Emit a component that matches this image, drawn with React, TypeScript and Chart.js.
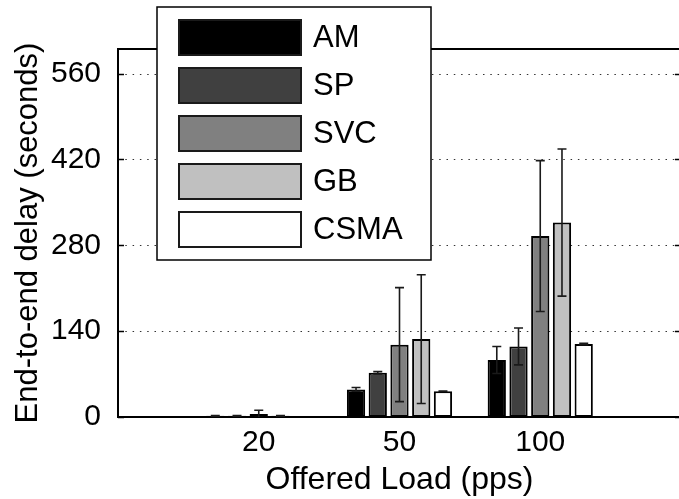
import React, { useEffect, useRef } from 'react';
import { Chart, registerables } from 'chart.js';

Chart.register(...registerables);

// ---- data ----
const categories = ['20', '50', '100'];
const seriesNames = ['AM', 'SP', 'SVC', 'GB', 'CSMA'];
const amValues = [2, 45, 93];
const amErrors = [0.5, 3, 22];
const spValues = [2, 72, 115];
const spErrors = [0.5, 2, 30];
const svcValues = [5, 118, 295];
const svcErrors = [6, 93, 123];
const gbValues = [2, 127, 317];
const gbErrors = [0.5, 105, 120];
const csmaValues = [1.5, 42, 119];
const csmaErrors = [0, 0.5, 1];
const yTicks = [0, 140, 280, 420, 560];
const yMax = 600;

const seriesValues = [amValues, spValues, svcValues, gbValues, csmaValues];
const seriesErrors = [amErrors, spErrors, svcErrors, gbErrors, csmaErrors];
const seriesColors = ['#000000', '#404040', '#808080', '#c0c0c0', '#ffffff'];

const FONT = "'Liberation Sans', Arial, Helvetica, sans-serif";

const framePlugin = {
  id: 'matlabFrame',
  beforeDatasetsDraw(chart: any) {
    const { ctx, chartArea: a, scales } = chart;
    const y = scales.y;
    ctx.save();
    // dotted grid
    ctx.strokeStyle = '#333';
    ctx.lineWidth = 1;
    ctx.setLineDash([1.5, 5.8]);
    yTicks.forEach((v) => {
      if (v === 0) return;
      const py = Math.round(y.getPixelForValue(v)) + 0.5;
      ctx.beginPath();
      ctx.moveTo(a.left, py);
      ctx.lineTo(a.right, py);
      ctx.stroke();
    });
    ctx.setLineDash([]);
    // inward ticks
    ctx.strokeStyle = '#000';
    ctx.lineWidth = 1.5;
    yTicks.forEach((v) => {
      const py = Math.round(y.getPixelForValue(v)) + 0.5;
      ctx.beginPath();
      ctx.moveTo(a.left, py);
      ctx.lineTo(a.left + 6, py);
      ctx.moveTo(a.right, py);
      ctx.lineTo(a.right - 6, py);
      ctx.stroke();
    });
    // top and right frame
    ctx.lineWidth = 2;
    ctx.beginPath();
    ctx.moveTo(a.left, a.top);
    ctx.lineTo(a.right, a.top);
    ctx.lineTo(a.right, a.bottom);
    ctx.stroke();
    ctx.restore();
  },
};

const errorBarPlugin = {
  id: 'errorBars',
  afterDatasetsDraw(chart: any) {
    const { ctx, chartArea: a, scales } = chart;
    const y = scales.y;
    ctx.save();
    ctx.beginPath();
    ctx.rect(a.left, a.top, a.right - a.left, a.bottom - a.top);
    ctx.clip();
    ctx.strokeStyle = '#1a1a1a';
    ctx.lineWidth = 1.6;
    seriesValues.forEach((vals, i) => {
      const meta = chart.getDatasetMeta(i);
      vals.forEach((v, j) => {
        const e = seriesErrors[i][j];
        const el = meta.data[j + 1];
        if (!el || !e) return;
        const x = el.x;
        const top = y.getPixelForValue(v + e);
        const bot = y.getPixelForValue(v - e);
        const cap = 4.5;
        ctx.beginPath();
        ctx.moveTo(x, top);
        ctx.lineTo(x, bot);
        ctx.moveTo(x - cap, top);
        ctx.lineTo(x + cap, top);
        ctx.moveTo(x - cap, bot);
        ctx.lineTo(x + cap, bot);
        ctx.stroke();
      });
    });
    ctx.restore();
  },
};

const legendLayout = {
  left: 157,
  top: 7,
  width: 274,
  height: 253,
  swatchLeft: 179,
  swatchWidth: 122,
  swatchHeight: 35,
  firstTop: 20,
  step: 48,
  textLeft: 313,
  fontSize: 31,
};

const boxLegendPlugin = {
  id: 'boxLegend',
  afterDraw(chart: any) {
    const { ctx } = chart;
    const L = legendLayout;
    ctx.save();
    ctx.fillStyle = '#fff';
    ctx.fillRect(L.left, L.top, L.width, L.height);
    ctx.strokeStyle = '#000';
    ctx.lineWidth = 1.5;
    ctx.strokeRect(L.left, L.top, L.width, L.height);
    chart.data.datasets.forEach((ds: any, i: number) => {
      const top = L.firstTop + i * L.step;
      ctx.fillStyle = ds.backgroundColor;
      ctx.fillRect(L.swatchLeft, top, L.swatchWidth, L.swatchHeight);
      ctx.strokeStyle = '#1a1a1a';
      ctx.lineWidth = 2;
      ctx.strokeRect(L.swatchLeft, top, L.swatchWidth, L.swatchHeight);
      ctx.fillStyle = '#000';
      ctx.font = `${L.fontSize}px ${FONT}`;
      ctx.textBaseline = 'middle';
      ctx.textAlign = 'left';
      ctx.fillText(ds.label, L.textLeft, top + L.swatchHeight / 2 + 1);
    });
    ctx.restore();
  },
};

export default function App() {
  const ref = useRef<HTMLCanvasElement>(null);

  useEffect(() => {
    if (!ref.current) return;
    const chart = new Chart(ref.current, {
      type: 'bar',
      data: {
        labels: ['', ...categories, ''],
        datasets: seriesNames.map((name, i) => ({
          label: name,
          data: [null, ...seriesValues[i], null],
          backgroundColor: seriesColors[i],
          borderColor: '#000',
          borderWidth: 2,
          borderSkipped: false,
          categoryPercentage: 0.772,
          barPercentage: 0.84,
        })),
      },
      options: {
        animation: false,
        responsive: false,
        devicePixelRatio: 1,
        layout: { padding: { left: 0, right: 19, top: 49, bottom: 0 } },
        plugins: {
          legend: { display: false },
          tooltip: { enabled: false },
        },
        scales: {
          x: {
            type: 'category',
            offset: false,
            grid: { display: false, drawTicks: false },
            border: { display: true, color: '#000', width: 2 },
            ticks: {
              padding: 8,
              autoSkip: false,
              maxRotation: 0,
              color: '#000',
              font: { family: FONT, size: 30 },
            },
            title: {
              display: true,
              text: 'Offered Load (pps)',
              color: '#000',
              font: { family: FONT, size: 32 },
              padding: { top: 0, bottom: 0 },
            },
            afterFit: (s: any) => {
              s.height = 82;
            },
          },
          y: {
            min: 0,
            max: yMax,
            grid: { display: false, drawTicks: false },
            border: { display: true, color: '#000', width: 2 },
            afterBuildTicks: (s: any) => {
              s.ticks = yTicks.map((v) => ({ value: v }));
            },
            ticks: {
              padding: 17,
              color: '#000',
              font: { family: FONT, size: 30 },
            },
            title: {
              display: true,
              text: 'End-to-end delay (seconds)',
              color: '#000',
              font: { family: FONT, size: 31 },
              padding: { top: 10, bottom: 0 },
            },
            afterFit: (s: any) => {
              s.width = 118;
            },
          },
        },
      },
      plugins: [framePlugin, errorBarPlugin, boxLegendPlugin],
    } as any);
    return () => chart.destroy();
  }, []);

  return (
    <div
      style={{
        position: 'absolute',
        left: 0,
        top: 0,
        width: 679,
        height: 499,
        overflow: 'hidden',
        background: '#fff',
      }}
    >
      <canvas ref={ref} width={700} height={499} style={{ display: 'block', width: 700, height: 499 }} />
    </div>
  );
}
